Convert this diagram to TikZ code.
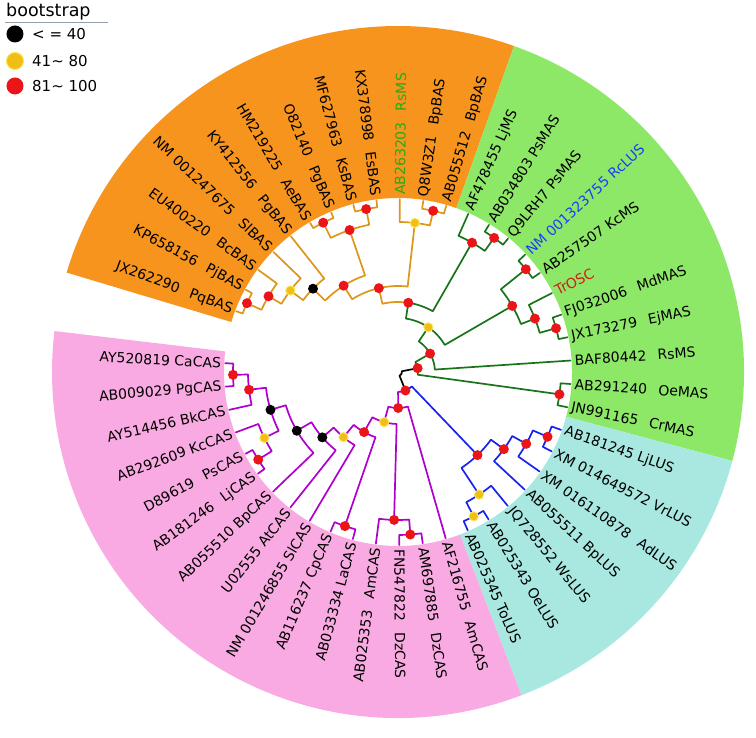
\documentclass[tikz,border=0pt]{standalone}
\usepackage{fontspec}
\setmainfont{DejaVu Sans}
\definecolor{secorange}{RGB}{247,148,30}
\definecolor{secgreen}{RGB}{142,232,104}
\definecolor{seccyan}{RGB}{168,232,224}
\definecolor{secpink}{RGB}{250,170,226}
\definecolor{brorange}{RGB}{220,150,25}
\definecolor{brgreen}{RGB}{25,115,25}
\definecolor{brblue}{RGB}{25,35,235}
\definecolor{brmagenta}{RGB}{175,0,205}
\definecolor{bsred}{RGB}{235,20,25}
\definecolor{bsyellow}{RGB}{240,190,20}
\definecolor{ringyellow}{RGB}{250,228,90}
\definecolor{txgreen}{RGB}{40,170,20}
\definecolor{txblue}{RGB}{30,60,250}
\definecolor{txred}{RGB}{205,30,25}
\definecolor{keygray}{RGB}{150,160,170}
\newcommand{\wsp}{\hspace{0.8em}}
\newcommand{\leaf}[4]{%
	\pgfmathsetmacro\leafA{159.4-(#2-1)*7.78}%
	\expandafter\xdef\csname ang#1\endcsname{\leafA}%
	\coordinate (#1) at (\leafA:173pt);%
	\pgfmathtruncatemacro\leafF{cos(\leafA)<0}%
	\ifnum\leafF=1
		\node[taxon, text=#4, anchor=east, rotate=\leafA+180] (t#1) at (\leafA:176pt) {#3};
	\else
		\node[taxon, text=#4, anchor=west, rotate=\leafA] (t#1) at (\leafA:176pt) {#3};
	\fi
}
\newcommand{\clade}[6]{%
	\pgfmathsetmacro\cladeA{\csname ang#3\endcsname}%
	\pgfmathsetmacro\cladeB{\csname ang#4\endcsname}%
	\pgfmathsetmacro\cladeM{(\cladeA+\cladeB)/2}%
	\expandafter\xdef\csname ang#1\endcsname{\cladeM}%
	\coordinate (#1) at (\cladeM:#2pt);
	\draw[#5] (#3) -- (\cladeA:#2pt) arc[start angle=\cladeA, end angle=\cladeM, radius=#2pt];
	\draw[#6] (#4) -- (\cladeB:#2pt) arc[start angle=\cladeB, end angle=\cladeM, radius=#2pt];
}

\begin{document}
\begin{tikzpicture}[
						branch/.style={line width=1.7pt, line cap=round, line join=round},
						obranch/.style={branch, draw=brorange},
						gbranch/.style={branch, draw=brgreen},
						bbranch/.style={branch, draw=brblue},
						pbranch/.style={branch, draw=brmagenta},
						rbranch/.style={branch, draw=black},
						taxon/.style={font=\fontsize{14pt}{16pt}\selectfont, inner sep=1pt},
						legendtext/.style={font=\fontsize{15pt}{17pt}\selectfont, anchor=west, inner sep=0pt},
						hi/.style={fill=bsred},
						mid/.style={fill=bsyellow, draw=ringyellow, line width=1pt},
						lo/.style={fill=black}
					]
					\useasboundingbox (-398pt,-366pt) rectangle (358pt,372pt);

					\fill[secorange] (70.4:174pt) arc[start angle=70.4, end angle=163.3, radius=174pt] -- (163.3:346pt) arc[start angle=163.3, end angle=70.4, radius=346pt] -- cycle;
					\fill[secgreen] (-14.9:174pt) arc[start angle=-14.9, end angle=70.4, radius=174pt] -- (70.4:346pt) arc[start angle=70.4, end angle=-14.9, radius=346pt] -- cycle;
					\fill[seccyan] (-69.1:174pt) arc[start angle=-69.1, end angle=-14.9, radius=174pt] -- (-14.9:346pt) arc[start angle=-14.9, end angle=-69.1, radius=346pt] -- cycle;
					\fill[secpink] (-186.8:174pt) arc[start angle=-186.8, end angle=-69.1, radius=174pt] -- (-69.1:346pt) arc[start angle=-69.1, end angle=-186.8, radius=346pt] -- cycle;

					\node[font=\fontsize{17.5pt}{19pt}\selectfont, anchor=base west, inner sep=0pt] (bstitle) at (-392pt,355pt) {bootstrap};
					\draw[keygray, line width=1.2pt] ([xshift=-1pt,yshift=-1.5pt]bstitle.south west) -- ++(103pt,0pt);
					\fill[lo] (-383pt,338pt) circle (8.5pt);
					\node[legendtext] (klo) at (-366pt,338pt) {< = 40};
					\draw[mid] (-383pt,311pt) circle (8.5pt);
					\node[legendtext] (kmid) at (-366pt,311pt) {41\textasciitilde\ 80};
					\fill[hi] (-383pt,286pt) circle (8.5pt);
					\node[legendtext] (khi) at (-366pt,286pt) {81\textasciitilde\ 100};

					\leaf{l1}{1}{JX262290\wsp PqBAS}{black}
					\leaf{l2}{2}{KP658156\wsp PjBAS}{black}
					\leaf{l3}{3}{EU400220\wsp BcBAS}{black}
					\leaf{l4}{4}{NM 001247675\wsp SlBAS}{black}
					\leaf{l5}{5}{KY412556\wsp PgBAS}{black}
					\leaf{l6}{6}{HM219225\wsp AeBAS}{black}
					\leaf{l7}{7}{O82140\wsp PgBAS}{black}
					\leaf{l8}{8}{MF627963\wsp KsBAS}{black}
					\leaf{l9}{9}{KX378998\wsp EsBAS}{black}
					\leaf{l10}{10}{AB263203\wsp RsMS}{txgreen}
					\leaf{l11}{11}{Q8W3Z1\wsp BpBAS}{black}
					\leaf{l12}{12}{AB055512\wsp BpBAS}{black}
					\leaf{l13}{13}{AF478455 LjMS}{black}
					\leaf{l14}{14}{AB034803 PsMAS}{black}
					\leaf{l15}{15}{Q9LRH7 PsMAS}{black}
					\leaf{l16}{16}{NM 001323755 RcLUS}{txblue}
					\leaf{l17}{17}{AB257507 KcMS}{black}
					\leaf{l18}{18}{TrOSC}{txred}
					\leaf{l19}{19}{FJ032006\wsp MdMAS}{black}
					\leaf{l20}{20}{JX173279\wsp EjMAS}{black}
					\leaf{l21}{21}{BAF80442\wsp RsMS}{black}
					\leaf{l22}{22}{AB291240\wsp OeMAS}{black}
					\leaf{l23}{23}{JN991165\wsp CrMAS}{black}
					\leaf{l24}{24}{AB181245 LjLUS}{black}
					\leaf{l25}{25}{XM 014649572 VrLUS}{black}
					\leaf{l26}{26}{XM 016110878\wsp AdLUS}{black}
					\leaf{l27}{27}{AB055511 BpLUS}{black}
					\leaf{l28}{28}{JQ728552 WsLUS}{black}
					\leaf{l29}{29}{AB025343 OeLUS}{black}
					\leaf{l30}{30}{AB025345 ToLUS}{black}
					\leaf{l31}{31}{AF216755\wsp AmCAS}{black}
					\leaf{l32}{32}{AM697885\wsp DzCAS}{black}
					\leaf{l33}{33}{FN547822\wsp DzCAS}{black}
					\leaf{l34}{34}{AB025353\wsp AmCAS}{black}
					\leaf{l35}{35}{AB033334 LaCAS}{black}
					\leaf{l36}{36}{AB116237 CpCAS}{black}
					\leaf{l37}{37}{NM 001246855 SlCAS}{black}
					\leaf{l38}{38}{U02555 AtCAS}{black}
					\leaf{l39}{39}{AB055510 BpCAS}{black}
					\leaf{l40}{40}{AB181246\wsp LjCAS}{black}
					\leaf{l41}{41}{D89619\wsp PsCAS}{black}
					\leaf{l42}{42}{AB292609 KcCAS}{black}
					\leaf{l43}{43}{AY514456 BkCAS}{black}
					\leaf{l44}{44}{AB009029 PgCAS}{black}
					\leaf{l45}{45}{AY520819 CaCAS}{black}

					\clade{o12}{166}{l1}{l2}{obranch}{obranch}
					\clade{o123}{150}{o12}{l3}{obranch}{obranch}
					\clade{o4}{135}{o123}{l4}{obranch}{obranch}
					\clade{o5}{119}{o4}{l5}{obranch}{obranch}
					\clade{o67}{167}{l6}{l7}{obranch}{obranch}
					\clade{o89}{166}{l8}{l9}{obranch}{obranch}
					\clade{o69}{150}{o67}{o89}{obranch}{obranch}
					\clade{o19}{102}{o5}{o69}{obranch}{obranch}
					\clade{o1112}{165}{l11}{l12}{obranch}{obranch}
					\clade{o1012}{150}{l10}{o1112}{obranch}{obranch}
					\clade{oroot}{86}{o19}{o1012}{obranch}{obranch}
					\clade{g1415}{165}{l14}{l15}{gbranch}{gbranch}
					\clade{g1315}{149}{l13}{g1415}{gbranch}{gbranch}
					\clade{n0}{70}{oroot}{g1315}{obranch}{gbranch}
					\clade{g1617}{164}{l16}{l17}{gbranch}{gbranch}
					\clade{g1920}{164}{l19}{l20}{gbranch}{gbranch}
					\clade{g1820}{147}{l18}{g1920}{gbranch}{gbranch}
					\clade{g1620}{132}{g1617}{g1820}{gbranch}{gbranch}
					\clade{gy}{54}{n0}{g1620}{gbranch}{gbranch}
					\clade{g2}{37}{gy}{l21}{gbranch}{gbranch}
					\clade{g2223}{163}{l22}{l23}{gbranch}{gbranch}
					\clade{g1}{20}{g2}{g2223}{gbranch}{gbranch}
					\clade{b3}{163}{l24}{l25}{bbranch}{bbranch}
					\clade{b2}{147}{b3}{l26}{bbranch}{bbranch}
					\clade{b1}{131}{b2}{l27}{bbranch}{bbranch}
					\clade{b5}{163}{l29}{l30}{bbranch}{bbranch}
					\clade{b4}{147}{l28}{b5}{bbranch}{bbranch}
					\clade{b0}{115}{b1}{b4}{bbranch}{bbranch}
					\clade{p3233}{163}{l32}{l33}{pbranch}{pbranch}
					\clade{p3234}{148}{p3233}{l34}{pbranch}{pbranch}
					\clade{p3536}{163}{l35}{l36}{pbranch}{pbranch}
					\clade{p9}{165}{l44}{l45}{pbranch}{pbranch}
					\clade{p8}{150}{l43}{p9}{pbranch}{pbranch}
					\clade{p11}{165}{l40}{l41}{pbranch}{pbranch}
					\clade{p10}{149}{p11}{l42}{pbranch}{pbranch}
					\clade{p7}{133}{p10}{p8}{pbranch}{pbranch}
					\clade{p6}{117}{l39}{p7}{pbranch}{pbranch}
					\clade{p5}{100}{l38}{p6}{pbranch}{pbranch}
					\clade{p4}{85}{l37}{p5}{pbranch}{pbranch}
					\clade{p3}{69}{p3536}{p4}{pbranch}{pbranch}
					\clade{p2}{52}{p3234}{p3}{pbranch}{pbranch}
					\clade{p0}{36}{l31}{p2}{pbranch}{pbranch}
					\clade{pb}{20}{b0}{p0}{bbranch}{pbranch}
					\clade{root}{4}{g1}{pb}{rbranch}{rbranch}

					\foreach \n in {o12,o123,o67,o89,o69,o19,o1112,oroot,n0,g1415,g1315,g1617,g1920,g1820,g1620,g2,g2223,g1,b3,b2,b1,b0,p3233,p3234,p3536,p9,p8,p11,p3,p0,pb}
						\fill[hi] (\n) circle (5pt);
					\foreach \n in {o4,o1012,gy,b5,b4,p10,p4,p2}
						\draw[mid] (\n) circle (4.6pt);
					\foreach \n in {o5,p7,p6,p5}
						\fill[lo] (\n) circle (5pt);
				\end{tikzpicture}
\end{document}
